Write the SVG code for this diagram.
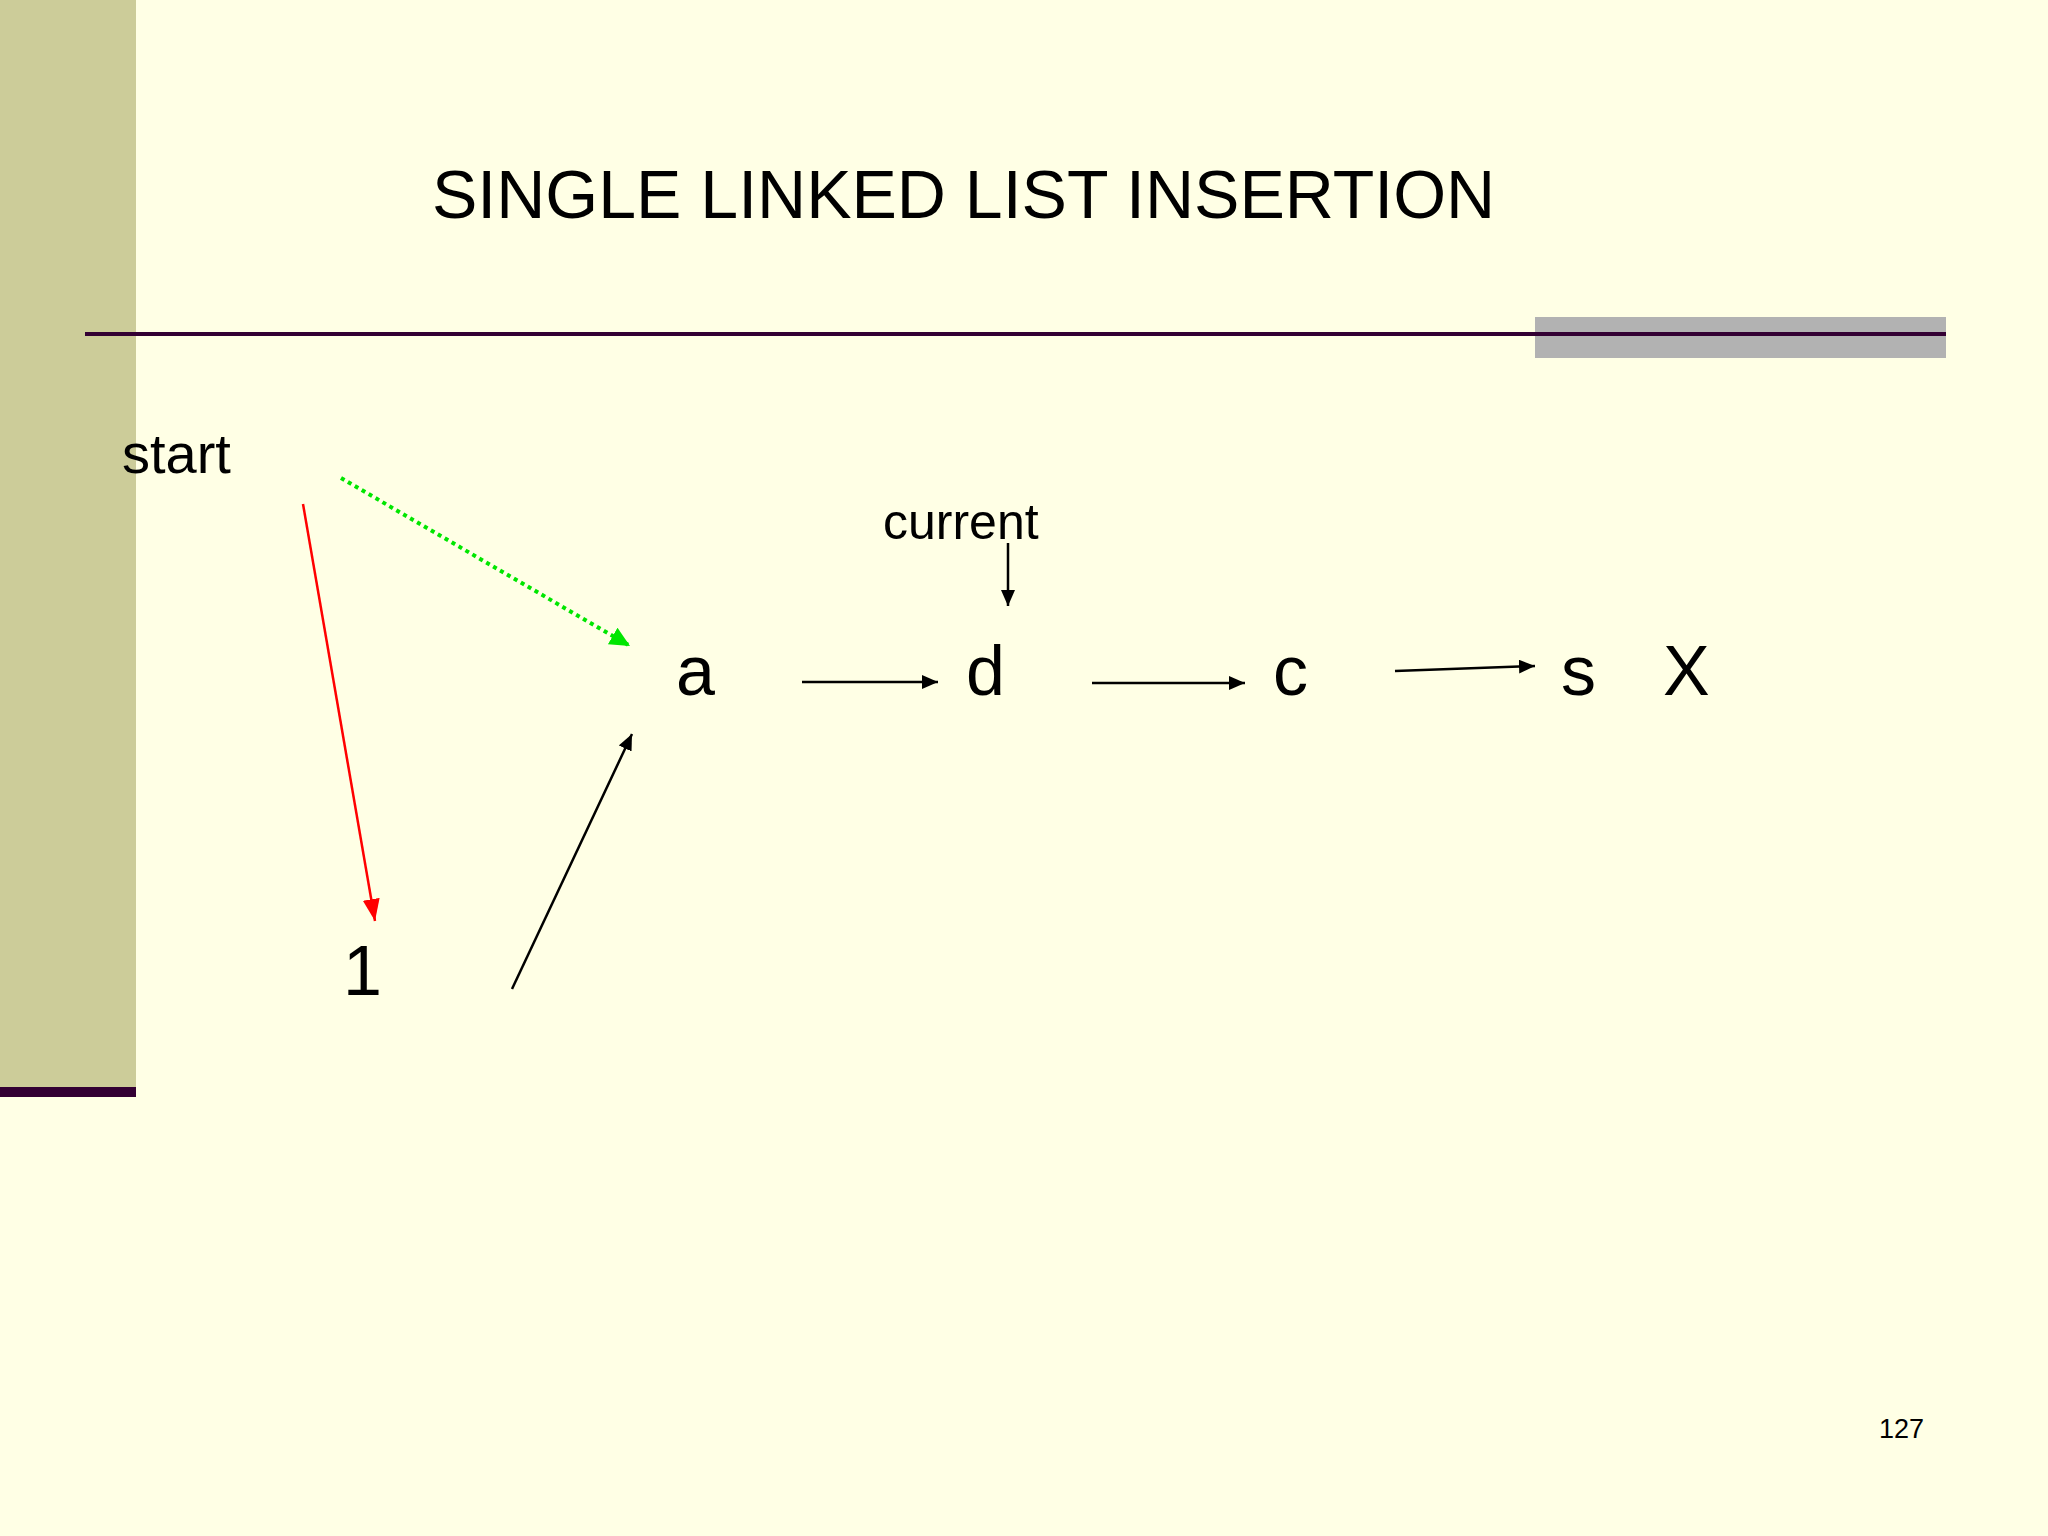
<svg xmlns="http://www.w3.org/2000/svg" width="2048" height="1536" viewBox="0 0 2048 1536">
<style>
  text { font-family: "Liberation Sans", Arial, sans-serif; fill: #000; }
  .node { font-size: 70px; }
  .blk { stroke: #000; stroke-width: 2.5; fill: none; }
</style>
<defs>
  <marker id="ab" markerUnits="userSpaceOnUse" markerWidth="18" markerHeight="16" refX="16" refY="7" orient="auto">
    <path d="M0,0 L16,7 L0,14 z" fill="#000"/>
  </marker>
  <marker id="ar" markerUnits="userSpaceOnUse" markerWidth="24" markerHeight="20" refX="22" refY="8.5" orient="auto">
    <path d="M0,0 L22,8.5 L0,17 z" fill="#FF0000"/>
  </marker>
  <marker id="ag" markerUnits="userSpaceOnUse" markerWidth="24" markerHeight="22" refX="20" refY="9.5" orient="auto">
    <path d="M0,0 L20,9.5 L0,19 z" fill="#00E600"/>
  </marker>
</defs>
<rect width="2048" height="1536" fill="#FFFFE5"/>
<rect x="0" y="0" width="136" height="1087" fill="#CCCC99"/>
<rect x="0" y="1087" width="136" height="10" fill="#330033"/>
<rect x="1535" y="317" width="411" height="41" fill="#B2B2B2"/>
<line x1="85" y1="334" x2="1946" y2="334" stroke="#330033" stroke-width="4"/>
<text x="432" y="218" font-size="68">SINGLE LINKED LIST INSERTION</text>

<g id="start"><text x="122" y="473" font-size="56">start</text></g>
<g id="current"><text x="883" y="539" font-size="50">current</text></g>
<g id="node-a"><text class="node" x="676" y="695">a</text></g>
<g id="node-d"><text class="node" x="966" y="695">d</text></g>
<g id="node-c"><text class="node" x="1273" y="695">c</text></g>
<g id="node-s"><text class="node" x="1561" y="695">s</text></g>
<g id="node-X"><text class="node" x="1663" y="695">X</text></g>
<g id="node-1"><text class="node" x="343" y="995">1</text></g>
<g id="page"><text x="1879" y="1438" font-size="27">127</text></g>

<g id="connectors">
  <line x1="341" y1="478" x2="630" y2="646" stroke="#00E600" stroke-width="4" stroke-dasharray="4 4" marker-end="url(#ag)"/>
  <line x1="303" y1="504" x2="375" y2="921" stroke="#FF0000" stroke-width="2.5" marker-end="url(#ar)"/>
  <line class="blk" x1="512" y1="989" x2="632" y2="734" marker-end="url(#ab)"/>
  <line class="blk" x1="1008" y1="543" x2="1008" y2="606" marker-end="url(#ab)"/>
  <line class="blk" x1="802" y1="682" x2="938" y2="682" marker-end="url(#ab)"/>
  <line class="blk" x1="1092" y1="683" x2="1245" y2="683" marker-end="url(#ab)"/>
  <line class="blk" x1="1395" y1="671" x2="1535" y2="666" marker-end="url(#ab)"/>
</g>
</svg>
